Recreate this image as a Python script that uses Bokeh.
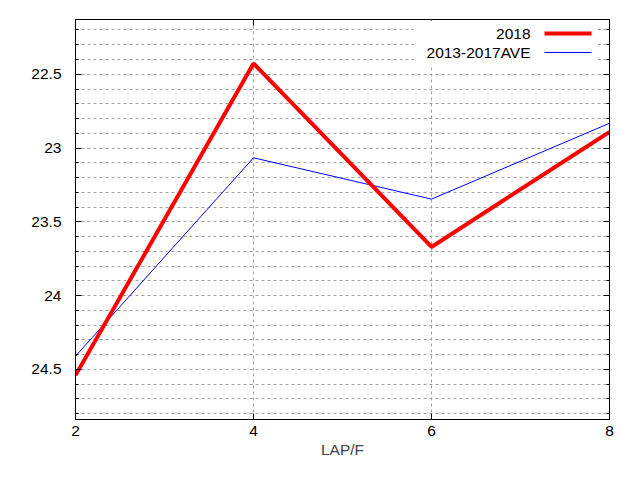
from bokeh.plotting import figure
from bokeh.models import (Range1d, FixedTicker, LinearAxis, CustomJSTickFormatter,
                          Label, Arrow, BoxAnnotation)
from bokeh.embed import file_html
from bokeh.resources import INLINE

# ---- data ----
laps = [2, 4, 6, 8]
series_2018 = [24.54, 22.427, 23.67, 22.89]
series_ave = [24.41, 23.066, 23.346, 22.832]
name_2018 = "2018"
name_ave = "2013-2017AVE"
x_ticks = [2, 4, 6, 8]
y_ticks = [22.5, 23.0, 23.5, 24.0, 24.5]
y_minor = [22.2, 22.3, 22.4, 22.6, 22.7, 22.8, 22.9, 23.1, 23.2, 23.3, 23.4,
           23.6, 23.7, 23.8, 23.9, 24.1, 24.2, 24.3, 24.4, 24.6, 24.7, 24.8]
x_label = "LAP/F"

FONT = "Liberation Sans"
FS = "15.5px"
GRID = "#a0a0a0"

W, H = 624, 464
ML, MR, MT, MB = 75, 15, 19, 45
x0, x1 = 2, 8
y_top, y_bot = 22.129, 24.839

p = figure(width=W, height=H, output_backend="svg", toolbar_location=None,
           x_range=Range1d(x0, x1), y_range=Range1d(y_bot, y_top),
           min_border_left=ML, min_border_right=MR, min_border_top=MT,
           min_border_bottom=MB, background_fill_color="white",
           border_fill_color="white")
p.outline_line_color = "black"
p.outline_line_width = 1

fmt = CustomJSTickFormatter(code="return tick.toString();")
blank = CustomJSTickFormatter(code="return '';")

def style_axis(ax):
    ax.axis_line_color = "black"
    ax.major_tick_in = 6
    ax.major_tick_out = 0
    ax.minor_tick_in = 3
    ax.minor_tick_out = 0
    ax.major_tick_line_color = "black"
    ax.minor_tick_line_color = "black"
    ax.major_label_text_font = FONT
    ax.major_label_text_color = "black"
    ax.major_label_text_font_size = FS

xt = FixedTicker(ticks=x_ticks, minor_ticks=[])
yt = FixedTicker(ticks=y_ticks, minor_ticks=y_minor)

p.xaxis.ticker = xt
p.yaxis.ticker = yt
p.xaxis.formatter = fmt
p.yaxis.formatter = fmt
for ax in p.xaxis:
    style_axis(ax)
    ax.major_label_standoff = 6
    ax.axis_label = x_label
    ax.axis_label_text_font = FONT
    ax.axis_label_text_font_size = FS
    ax.axis_label_text_font_style = "normal"
    ax.axis_label_standoff = 2
for ax in p.yaxis:
    style_axis(ax)
    ax.major_label_standoff = 14

top_ax = LinearAxis(ticker=xt, formatter=blank)
style_axis(top_ax)
top_ax.major_label_standoff = 0
p.add_layout(top_ax, "above")
right_ax = LinearAxis(ticker=yt, formatter=blank)
style_axis(right_ax)
right_ax.major_label_standoff = 0
p.add_layout(right_ax, "right")

p.xgrid.ticker = xt
p.xgrid.grid_line_color = GRID
p.xgrid.grid_line_dash = "3 3"
p.ygrid.grid_line_color = GRID
p.ygrid.grid_line_dash = "3 3"
p.ygrid.minor_grid_line_color = GRID
p.ygrid.minor_grid_line_dash = "3 3"

p.line(laps, series_ave, line_color="#0000ff", line_width=1)
p.line(laps, series_2018, line_color="#ff0000", line_width=4)

# ---- legend (gnuplot style: text right, sample line right of it) ----
fw, fh = W - ML - MR, H - MT - MB
def dx(px):
    return x0 + px * (x1 - x0) / fw
def dy(py):
    return y_top + py * (y_bot - y_top) / fh

p.add_layout(BoxAnnotation(left=dx(338), right=dx(522), top=dy(1), bottom=dy(45),
                           fill_color="white", fill_alpha=1, line_alpha=0))
rows = [(name_2018, "#ff0000", 4, 14), (name_ave, "#0000ff", 1, 33)]
for txt, col, lw, py in rows:
    p.add_layout(Label(x=dx(455), y=dy(py), text=txt, text_align="right",
                       text_baseline="middle", text_font=FONT, text_font_size=FS,
                       text_color="black"))
    p.add_layout(Arrow(x_start=dx(469), y_start=dy(py), x_end=dx(516), y_end=dy(py),
                       end=None, line_color=col, line_width=lw))

open("out.html", "w").write(file_html(p, INLINE))
